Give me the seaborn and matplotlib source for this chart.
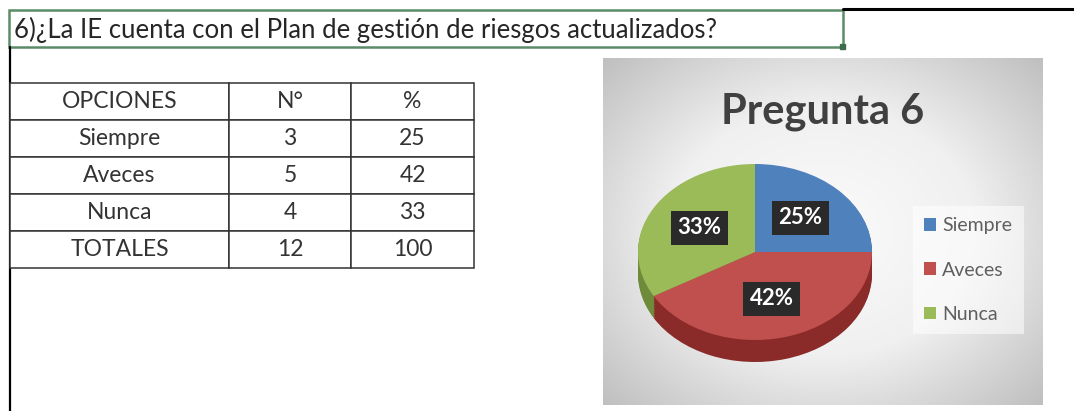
import numpy as np
import matplotlib.pyplot as plt
from matplotlib.colors import LinearSegmentedColormap
import matplotlib.patches as mpatches
import seaborn as sns

# Data
question = "6)¿La IE cuenta con el Plan de gestión de riesgos actualizados?"
chart_title = "Pregunta 6"
col_labels = ["OPCIONES", "N°", "%"]
options = ["Siempre", "Aveces", "Nunca"]
counts = [3, 5, 4]
percents = [25, 42, 33]
total_label = "TOTALES"

sns.set_theme(style="white")
plt.rcParams['font.family'] = ['Lato', 'DejaVu Sans']

palette = ["#4F81BD", "#C0504D", "#9BBB59"]
side_palette = ["#34598a", "#8a2b29", "#6f8a3a"]

W, H = 1074, 411
fig = plt.figure(figsize=(W / 100, H / 100), dpi=100)
fig.patch.set_facecolor('white')


def px_axes(x0, y0, x1, y1):
    return fig.add_axes([x0 / W, 1 - y1 / H, (x1 - x0) / W, (y1 - y0) / H])


# sheet decorations (cell borders, question text)
ax0 = fig.add_axes([0, 0, 1, 1])
ax0.set_xlim(0, W)
ax0.set_ylim(H, 0)
ax0.axis('off')
ax0.add_patch(mpatches.Rectangle((9, 10), 834, 37, fill=False,
                                 edgecolor='#5b8c68', linewidth=1.8))
ax0.add_patch(mpatches.Rectangle((840, 44), 5, 5, color='#3f6b4c'))
ax0.plot([843, W], [9, 9], color='black', linewidth=2.2)
ax0.plot([10, 10], [47, H], color='black', linewidth=1.6)
ax0.text(14, 30, question, fontsize=18.5, color='#262626', va='center', ha='left')

# table
rows = [[o, str(c), str(p)] for o, c, p in zip(options, counts, percents)]
rows.append([total_label, str(sum(counts)), str(sum(percents))])
ax_tab = px_axes(10, 83, 474, 268)
ax_tab.axis('off')
tab = ax_tab.table(cellText=rows, colLabels=col_labels, cellLoc='center',
                   colWidths=[219, 122, 123], bbox=[0, 0, 1, 1])
tab.auto_set_font_size(False)
tab.set_fontsize(16.5)
for cell in tab.get_celld().values():
    cell.set_edgecolor('#333333')
    cell.set_linewidth(1.1)
    cell.set_facecolor('white')
    cell.get_text().set_color('#333333')

# chart area background (radial grey gradient)
ax_bg = px_axes(603, 58, 1043, 405)
yy, xx = np.mgrid[0:1:200j, 0:1:250j]
r = np.hypot((xx - 0.5) / 0.7, (yy - 0.5) / 0.72)
grey = LinearSegmentedColormap.from_list('g', ['#fbfbfb', '#f0f0f0', '#bfbfbf'])
ax_bg.imshow(r, cmap=grey, vmin=0, vmax=1, aspect='auto', extent=[0, 1, 0, 1])
ax_bg.axis('off')
ax_bg.text(0.5, 0.845, chart_title, transform=ax_bg.transAxes, ha='center', va='center',
           fontsize=30, fontweight='bold', color='#404040')

# pie with a fake 3D rim
depth = 0.25
ax_pie = px_axes(638, 164, 872, 362)
ax_pie.patch.set_visible(False)
for d in np.linspace(depth, 0.01, 14):
    ax_pie.pie(counts, colors=side_palette, startangle=90, counterclock=False,
               center=(0, -d), wedgeprops=dict(linewidth=0))
wedges, _, autotexts = ax_pie.pie(
    counts, colors=palette, startangle=90, counterclock=False,
    autopct='%.0f%%', pctdistance=0.55,
    wedgeprops=dict(linewidth=0),
    textprops=dict(color='white', fontsize=16, fontweight='bold'))
for t in autotexts:
    t.set_bbox(dict(boxstyle='square,pad=0.3', facecolor='#2a2a2a', edgecolor='none'))
ax_pie.set_aspect('auto')
ax_pie.set_xlim(-1, 1)
ax_pie.set_ylim(-1 - depth, 1)
ax_pie.axis('off')

leg = fig.legend(wedges, options, loc='center left', bbox_to_anchor=(903 / W, 1 - 270 / H),
                 fontsize=14, labelcolor='#5f5f5f', frameon=True, facecolor='white',
                 edgecolor='none', framealpha=0.55, fancybox=False,
                 handlelength=0.6, handleheight=0.6, handletextpad=0.3,
                 labelspacing=1.4, borderpad=0.6)

fig.savefig('out.png', dpi=100)
